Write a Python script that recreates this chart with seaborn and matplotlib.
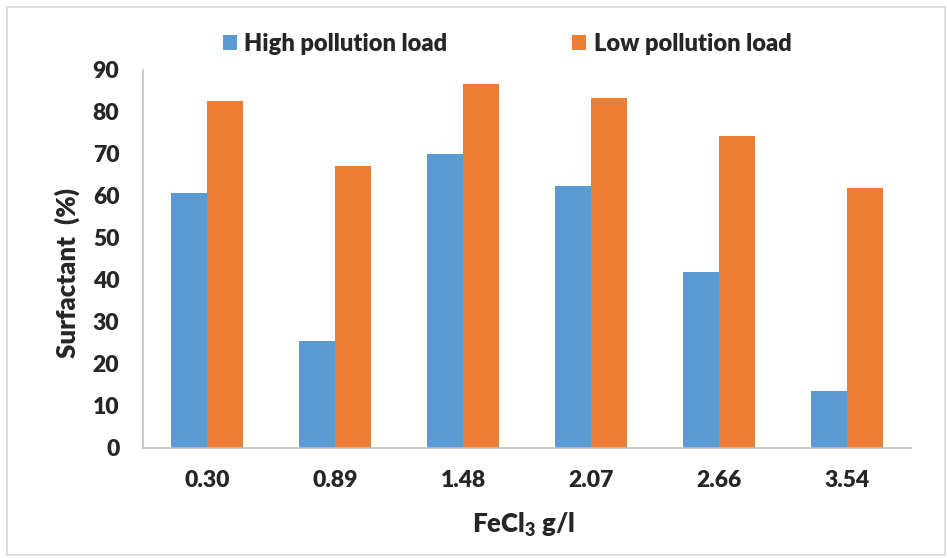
import matplotlib
matplotlib.use("Agg")
import matplotlib.pyplot as plt
from matplotlib.patches import Rectangle
import seaborn as sns
import pandas as pd

# Data
doses = ["0.30", "0.89", "1.48", "2.07", "2.66", "3.54"]
high_load = [60.6, 25.4, 70.0, 62.3, 41.8, 13.5]
low_load = [82.6, 67.0, 86.6, 83.3, 74.1, 61.9]
series_names = ["High pollution load", "Low pollution load"]
colors = ["#5B9BD5", "#ED7D31"]

df = pd.DataFrame({
    "dose": doses * 2,
    "value": high_load + low_load,
    "series": [series_names[0]] * len(doses) + [series_names[1]] * len(doses),
})

WEIGHT = "heavy"
TICK_FS = 16.5
LABEL_FS = 18.5
LEGEND_FS = 17

sns.set_theme(style="white")
plt.rcParams["font.family"] = ["Lato", "DejaVu Sans"]
plt.rcParams["font.weight"] = WEIGHT
plt.rcParams["mathtext.fontset"] = "custom"
plt.rcParams["mathtext.bf"] = "Lato:heavy"
plt.rcParams["mathtext.rm"] = "Lato:heavy"

fig = plt.figure(figsize=(9.47, 5.58), dpi=100)
ax = fig.add_axes([0.151, 0.198, 0.811, 0.677])

sns.barplot(data=df, x="dose", y="value", hue="series", order=doses,
            hue_order=series_names, palette=colors, width=0.57,
            saturation=1, linewidth=0, ax=ax, legend=True)

ax.set_ylim(0, 90)
ax.set_yticks(range(0, 91, 10))
ax.set_xlim(-0.5, len(doses) - 0.5)
ax.tick_params(axis="both", length=0, labelsize=TICK_FS)
ax.tick_params(axis="y", pad=17)
ax.tick_params(axis="x", pad=16)
for lbl in ax.get_xticklabels() + ax.get_yticklabels():
    lbl.set_fontweight(WEIGHT)

for side in ["top", "right"]:
    ax.spines[side].set_visible(False)
for side in ["left", "bottom"]:
    ax.spines[side].set_color("#bfbfbf")
    ax.spines[side].set_linewidth(1.2)

ax.set_ylabel("Surfactant  (%)", fontsize=LABEL_FS, fontweight=WEIGHT)
ax.set_xlabel(r"FeCl$_{\mathbf{3}}$ g/l", fontsize=LABEL_FS, fontweight=WEIGHT)
ax.yaxis.set_label_coords(-0.099, 0.462)
ax.xaxis.set_label_coords(0.495, -0.205)
ax.yaxis.label.set_va("center")
ax.xaxis.label.set_va("center")

handles, labels = ax.get_legend_handles_labels()
ax.get_legend().remove()
fig.legend(handles, labels, loc="center", bbox_to_anchor=(507 / 947, 1 - 44 / 558),
           ncol=2, frameon=False, handlelength=0.6, handleheight=0.6,
           handletextpad=0.3, columnspacing=5.3, prop={"weight": WEIGHT, "size": LEGEND_FS})

# Light outer frame around the figure
fig.patches.append(Rectangle((7 / 947, 3 / 558), 938 / 947, 548 / 558,
                             transform=fig.transFigure, fill=False,
                             edgecolor="#d9d9d9", linewidth=1.2))

fig.savefig("out.png", dpi=100)
